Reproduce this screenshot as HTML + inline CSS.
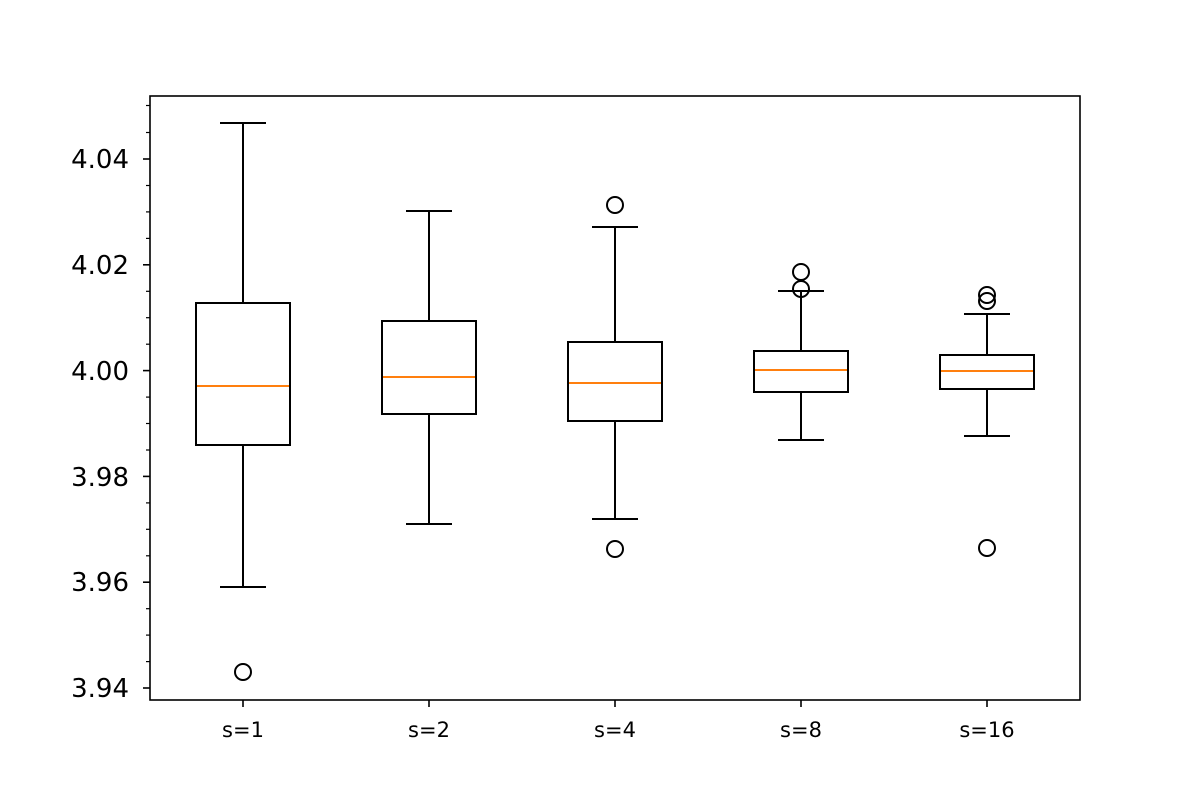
<!DOCTYPE html>
<html><head><meta charset="utf-8"><style>body{margin:0;background:#fff}svg{display:block}</style></head><body>
<svg width="1200" height="800" xmlns="http://www.w3.org/2000/svg" font-family="DejaVu Sans, Liberation Sans, sans-serif">
<rect width="1200" height="800" fill="#fff"/>
<g stroke="#000" stroke-width="1.6">
<line x1="143" x2="150" y1="159" y2="159"/><line x1="143" x2="150" y1="264.8" y2="264.8"/><line x1="143" x2="150" y1="370.6" y2="370.6"/><line x1="143" x2="150" y1="476.4" y2="476.4"/><line x1="143" x2="150" y1="582.2" y2="582.2"/><line x1="143" x2="150" y1="688" y2="688"/>
<g stroke-width="1.2">
<line x1="146" x2="150" y1="105.5" y2="105.5"/><line x1="146" x2="150" y1="132.5" y2="132.5"/>
<line x1="146" x2="150" y1="185.5" y2="185.5"/><line x1="146" x2="150" y1="211.9" y2="211.9"/><line x1="146" x2="150" y1="238.4" y2="238.4"/>
<line x1="146" x2="150" y1="291.3" y2="291.3"/><line x1="146" x2="150" y1="317.7" y2="317.7"/><line x1="146" x2="150" y1="344.2" y2="344.2"/>
<line x1="146" x2="150" y1="397.1" y2="397.1"/><line x1="146" x2="150" y1="423.5" y2="423.5"/><line x1="146" x2="150" y1="450" y2="450"/>
<line x1="146" x2="150" y1="502.9" y2="502.9"/><line x1="146" x2="150" y1="529.3" y2="529.3"/><line x1="146" x2="150" y1="555.8" y2="555.8"/>
<line x1="146" x2="150" y1="608.7" y2="608.7"/><line x1="146" x2="150" y1="635.1" y2="635.1"/><line x1="146" x2="150" y1="661.6" y2="661.6"/>
</g>
<line x1="243" x2="243" y1="700" y2="707"/><line x1="429" x2="429" y1="700" y2="707"/><line x1="615" x2="615" y1="700" y2="707"/><line x1="801" x2="801" y1="700" y2="707"/><line x1="987" x2="987" y1="700" y2="707"/>
</g>
<g font-size="26" text-anchor="end" fill="#000">
<text x="129" y="168">4.04</text><text x="129" y="274">4.02</text><text x="129" y="380">4.00</text><text x="129" y="486">3.98</text><text x="129" y="591">3.96</text><text x="129" y="697">3.94</text>
</g>
<g font-size="21" text-anchor="middle" fill="#000">
<text x="243" y="737">s=1</text><text x="429" y="737">s=2</text><text x="615" y="737">s=4</text><text x="801" y="737">s=8</text><text x="987" y="737">s=16</text>
</g>
<g stroke="#000" stroke-width="2" fill="none">
<rect x="196" y="303" width="94" height="142"/><line x1="243" x2="243" y1="303" y2="123"/><line x1="243" x2="243" y1="445" y2="587"/>
<line x1="220" x2="266" y1="123" y2="123"/><line x1="220" x2="266" y1="587" y2="587"/><circle cx="243" cy="672" r="8"/>
<rect x="382" y="321" width="94" height="93"/><line x1="429" x2="429" y1="321" y2="211"/><line x1="429" x2="429" y1="414" y2="524"/>
<line x1="406" x2="452" y1="211" y2="211"/><line x1="406" x2="452" y1="524" y2="524"/>
<rect x="568" y="342" width="94" height="79"/><line x1="615" x2="615" y1="342" y2="227"/><line x1="615" x2="615" y1="421" y2="519"/>
<line x1="592" x2="638" y1="227" y2="227"/><line x1="592" x2="638" y1="519" y2="519"/><circle cx="615" cy="205" r="8"/><circle cx="615" cy="549" r="8"/>
<rect x="754" y="351" width="94" height="41"/><line x1="801" x2="801" y1="351" y2="291"/><line x1="801" x2="801" y1="392" y2="440"/>
<line x1="778" x2="824" y1="291" y2="291"/><line x1="778" x2="824" y1="440" y2="440"/><circle cx="801" cy="272" r="8"/><circle cx="801" cy="289" r="8"/>
<rect x="940" y="355" width="94" height="34"/><line x1="987" x2="987" y1="355" y2="314"/><line x1="987" x2="987" y1="389" y2="436"/>
<line x1="964" x2="1010" y1="314" y2="314"/><line x1="964" x2="1010" y1="436" y2="436"/><circle cx="987" cy="295" r="8"/><circle cx="987" cy="301" r="8"/><circle cx="987" cy="548" r="8"/>
</g>
<g stroke="#ff7f0e" stroke-width="2">
<line x1="197" x2="289" y1="386" y2="386"/><line x1="383" x2="475" y1="377" y2="377"/><line x1="569" x2="661" y1="383" y2="383"/><line x1="755" x2="847" y1="370" y2="370"/><line x1="941" x2="1033" y1="371" y2="371"/>
</g>
<rect x="150" y="96" width="930" height="604" fill="none" stroke="#000" stroke-width="1.6"/>
</svg>
</body></html>
